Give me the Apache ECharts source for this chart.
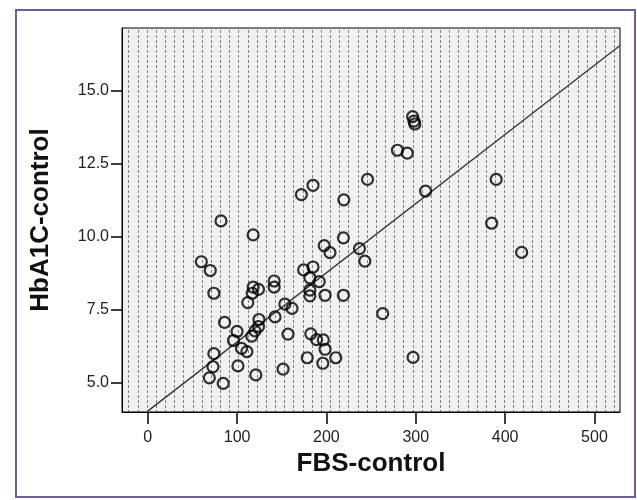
<!DOCTYPE html>
<html>
<head>
<meta charset="utf-8">
<script src="https://cdn.jsdelivr.net/npm/echarts@6/dist/echarts.min.js"></script>
<style>html,body{margin:0;padding:0;background:#fff;}#c{width:637px;height:500px;}</style>
</head>
<body>
<div id="c"></div>
<script>
// FBS-control (x) values
var fbs = [60, 70, 74, 82, 118, 86, 100, 96, 105, 111, 74, 73, 69, 84.5, 101, 121, 112, 118, 124, 117,
  141.5, 141.5, 124.5, 124, 120, 116.5, 142.5, 153.5, 161.5, 157, 151.5, 172, 185, 219.5, 246, 279.5,
  290.5, 296.5, 298, 299, 311, 390, 385, 418.5, 219, 197.5, 204, 237, 243, 174.5, 185, 181.5, 192,
  181.5, 181.5, 198.5, 219, 263, 182.5, 189, 196.5, 198.5, 178.5, 196, 210.5, 297];
// HbA1C-control (y) values
var hba1c = [9.15, 8.85, 8.07, 10.55, 10.07, 7.07, 6.76, 6.45, 6.18, 6.07, 6.0, 5.55, 5.17, 4.98, 5.58, 5.27, 7.75, 8.28, 8.2, 8.07,
  8.49, 8.28, 7.17, 6.93, 6.78, 6.6, 7.26, 7.7, 7.55, 6.67, 5.47, 11.45, 11.77, 11.27, 11.97, 12.97,
  12.87, 14.12, 13.97, 13.87, 11.57, 11.97, 10.47, 9.47, 9.97, 9.7, 9.46, 9.6, 9.17, 8.87, 8.97, 8.6, 8.47,
  8.18, 7.98, 8.0, 8.0, 7.37, 6.68, 6.48, 6.47, 6.15, 5.86, 5.67, 5.86, 5.87];
// fit line endpoints [x, y]
var fitX = [0, 528.6];
var fitY = [4.03, 16.56];
var xTicks = [0, 100, 200, 300, 400, 500];
var yTicks = [5.0, 7.5, 10.0, 12.5, 15.0];

var pts = fbs.map(function (v, i) { return [v, hba1c[i]]; });
var linePts = fitX.map(function (v, i) { return [v, fitY[i]]; });

// dotted background pattern
var pc = document.createElement('canvas');
pc.width = 55; pc.height = 5;
var g = pc.getContext('2d');
g.fillStyle = '#f0f0f0'; g.fillRect(0, 0, 55, 5);
g.fillStyle = '#808080';
for (var k = 0; k < 6; k++) {
  var xx = Math.round(k * 55 / 6);
  g.fillRect(xx, 0, 1, 3);
}

var chart = echarts.init(document.getElementById('c'), null, {renderer: 'canvas'});
var font = 'Liberation Sans, Arial, sans-serif';
chart.setOption({
  animation: false,
  backgroundColor: '#fff',
  graphic: [{
    type: 'rect', z: -10,
    shape: {x: 16, y: 10, width: 619, height: 487},
    style: {fill: 'none', stroke: '#735c9a', lineWidth: 2}
  }],
  grid: {
    left: 122, right: 17, top: 28, bottom: 88,
    show: true, borderColor: '#000', borderWidth: 1,
    backgroundColor: {image: pc, repeat: 'repeat'}
  },
  xAxis: {
    type: 'value', min: -28.8, max: 528.6,
    name: 'FBS-control', nameLocation: 'middle', nameGap: 38,
    nameTextStyle: {fontFamily: font, fontWeight: 'bold', fontSize: 26, color: '#111'},
    axisLine: {show: true, onZero: false, lineStyle: {color: '#000', width: 1}},
    axisTick: {show: true, length: 12, customValues: xTicks, lineStyle: {color: '#000', width: 1.5}},
    axisLabel: {customValues: xTicks, fontFamily: font, fontSize: 16, color: '#222', margin: 18},
    splitLine: {show: false}
  },
  yAxis: {
    type: 'value', min: 4.0, max: 17.16,
    name: 'HbA1C-control', nameLocation: 'middle', nameGap: 68, nameRotate: 90,
    nameTextStyle: {fontFamily: font, fontWeight: 'bold', fontSize: 26, color: '#111'},
    axisLine: {show: true, onZero: false, lineStyle: {color: '#000', width: 1}},
    axisTick: {show: true, length: 11, customValues: yTicks, lineStyle: {color: '#000', width: 1.5}},
    axisLabel: {customValues: yTicks, fontFamily: font, fontSize: 16, color: '#222', margin: 13,
      formatter: function (v) { return v.toFixed(1); }},
    splitLine: {show: false}
  },
  series: [{
    type: 'line', data: linePts, symbol: 'none', silent: true,
    lineStyle: {color: '#333', width: 1.3}, z: 2
  }, {
    type: 'scatter', data: pts, symbol: 'circle', symbolSize: 11,
    itemStyle: {color: 'rgba(0,0,0,0)', borderColor: '#000', borderWidth: 2.2}, z: 3
  }]
});
</script>
</body>
</html>
